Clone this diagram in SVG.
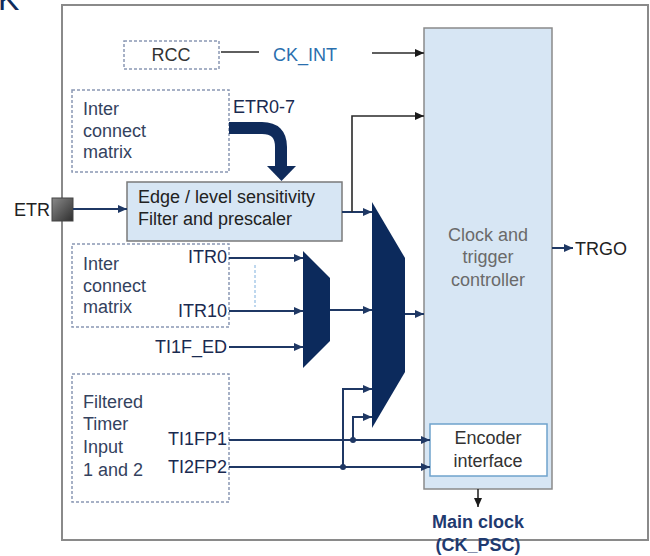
<svg xmlns="http://www.w3.org/2000/svg" width="650" height="556" viewBox="0 0 650 556">
<defs>
<style>
text{font-family:"Liberation Sans",Arial,sans-serif;font-size:18px}
.dash{fill:#fff;stroke:#8a98b4;stroke-width:1.5;stroke-dasharray:3 2}
.lbl{fill:#34425e}
.sig{fill:#1a2a50}
.nv{fill:none;stroke:#1f3864;stroke-width:2}
.bk{fill:none;stroke:#2a2a2a;stroke-width:1.6}
.mux{fill:#0c2a5c}
</style>
<marker id="an" markerUnits="userSpaceOnUse" markerWidth="9" markerHeight="8" refX="9" refY="4" orient="auto"><path d="M0,0 L9,4 L0,8 z" fill="#1f3864"/></marker>
<marker id="ab" markerUnits="userSpaceOnUse" markerWidth="9" markerHeight="8" refX="9" refY="4" orient="auto"><path d="M0,0 L9,4 L0,8 z" fill="#1a1a1a"/></marker>
<linearGradient id="pin" x1="0" y1="0" x2="1" y2="1"><stop offset="0" stop-color="#8a8a8a"/><stop offset="1" stop-color="#2e2e2e"/></linearGradient>
</defs>
<rect width="650" height="556" fill="#fff"/>
<text x="-2" y="10" style="font-size:32px" fill="#0f2b5b">K</text>
<rect x="62" y="5" width="586" height="535" fill="#fff" stroke="#8a8a8a" stroke-width="2"/>

<g id="rcc"><rect class="dash" x="124" y="41" width="95" height="28"/><text x="171" y="61" text-anchor="middle" fill="#333">RCC</text></g>
<g id="ckint"><text x="273" y="61" fill="#2a6fae">CK_INT</text></g>
<g id="icm1"><rect class="dash" x="72" y="90" width="157" height="82"/><text class="lbl" x="83" y="115">Inter</text><text class="lbl" x="83" y="137">connect</text><text class="lbl" x="83" y="158">matrix</text></g>
<g id="etr07"><text class="sig" x="233" y="113">ETR0-7</text></g>
<g id="filter"><rect x="127" y="182" width="215" height="59" fill="#d7e6f4" stroke="#7a7a7a" stroke-width="1.5"/><text x="138" y="203" fill="#222">Edge / level sensitivity</text><text x="138" y="225" fill="#222">Filter and prescaler</text></g>
<g id="etr"><text x="14" y="216" fill="#222">ETR</text><rect x="52" y="198" width="21" height="23" fill="url(#pin)" stroke="#444" stroke-width="1"/></g>
<g id="icm2"><rect class="dash" x="72" y="244" width="157" height="83"/><text class="lbl" x="83" y="270">Inter</text><text class="lbl" x="83" y="292">connect</text><text class="lbl" x="83" y="313">matrix</text>
<text class="sig" x="227" y="263" text-anchor="end">ITR0</text><text class="sig" x="227" y="317" text-anchor="end">ITR10</text></g>
<g id="ti1fed"><text class="sig" x="227" y="353" text-anchor="end">TI1F_ED</text></g>
<g id="fti"><rect class="dash" x="72" y="374" width="157" height="128"/><text class="lbl" x="83" y="408">Filtered</text><text class="lbl" x="83" y="430">Timer</text><text class="lbl" x="83" y="453">Input</text><text class="lbl" x="83" y="476">1 and 2</text>
<text class="sig" x="227" y="445" text-anchor="end">TI1FP1</text><text class="sig" x="227" y="473" text-anchor="end">TI2FP2</text></g>
<g id="mux1"><polygon class="mux" points="303,251 330,278 330,341 303,368"/></g>
<g id="mux2"><polygon class="mux" points="372,202 405,258 405,372 372,428"/></g>
<g id="ctrl"><rect x="424" y="28" width="128" height="461" fill="#d7e6f4" stroke="#8a8a8a" stroke-width="1.5"/><text x="488" y="241" text-anchor="middle" fill="#6a6a6a">Clock and</text><text x="488" y="263" text-anchor="middle" fill="#6a6a6a">trigger</text><text x="488" y="286" text-anchor="middle" fill="#6a6a6a">controller</text></g>
<g id="enc"><rect x="430" y="424" width="117" height="52" fill="#fff" stroke="#6fa3cc" stroke-width="1.5"/><text x="488" y="444" text-anchor="middle" fill="#333">Encoder</text><text x="488" y="467" text-anchor="middle" fill="#333">interface</text></g>
<g id="trgo"><text x="575" y="255" fill="#222">TRGO</text></g>
<g id="mainclk"><text x="478" y="528" text-anchor="middle" style="font-weight:bold" fill="#1f3a70">Main clock</text><text x="478" y="551" text-anchor="middle" style="font-weight:bold" fill="#1f3a70">(CK_PSC)</text></g>

<g id="connectors">
<line class="bk" x1="221" y1="52" x2="259" y2="52"/>
<line class="bk" x1="372" y1="53" x2="424" y2="53" marker-end="url(#ab)"/>
<path d="M229,128 H262 Q281,128 281,147 V167" fill="none" stroke="#0f2b5b" stroke-width="12"/>
<polygon points="267,166 296,166 281.5,181" fill="#0f2b5b"/>
<line class="nv" x1="73" y1="209" x2="127" y2="209" marker-end="url(#an)"/>
<line class="nv" x1="342" y1="212" x2="372" y2="212" marker-end="url(#an)"/>
<polyline class="bk" points="352,212 352,116 424,116" marker-end="url(#ab)"/>
<line x1="255" y1="265" x2="255" y2="307" stroke="#7fb0dd" stroke-width="1" stroke-dasharray="3 2"/>
<line class="nv" x1="229" y1="258" x2="303" y2="258" marker-end="url(#an)"/>
<line class="nv" x1="229" y1="311" x2="303" y2="311" marker-end="url(#an)"/>
<line class="nv" x1="229" y1="347" x2="303" y2="347" marker-end="url(#an)"/>
<line class="nv" x1="330" y1="310" x2="372" y2="310" marker-end="url(#an)"/>
<line class="nv" x1="405" y1="314" x2="424" y2="314" marker-end="url(#an)"/>
<line class="nv" x1="229" y1="440" x2="430" y2="440" marker-end="url(#an)"/>
<line class="nv" x1="229" y1="467" x2="430" y2="467" marker-end="url(#an)"/>
<polyline class="nv" points="353,440 353,417 372,417" marker-end="url(#an)"/>
<polyline class="nv" points="343,467 343,389 372,389" marker-end="url(#an)"/>
<circle cx="353" cy="440" r="3" fill="#1f3864"/>
<circle cx="343" cy="467" r="3" fill="#1f3864"/>
<line class="nv" x1="552" y1="248" x2="573" y2="248" marker-end="url(#an)"/>
<line class="bk" x1="478" y1="489" x2="478" y2="507" marker-end="url(#ab)"/>
</g>
</svg>
